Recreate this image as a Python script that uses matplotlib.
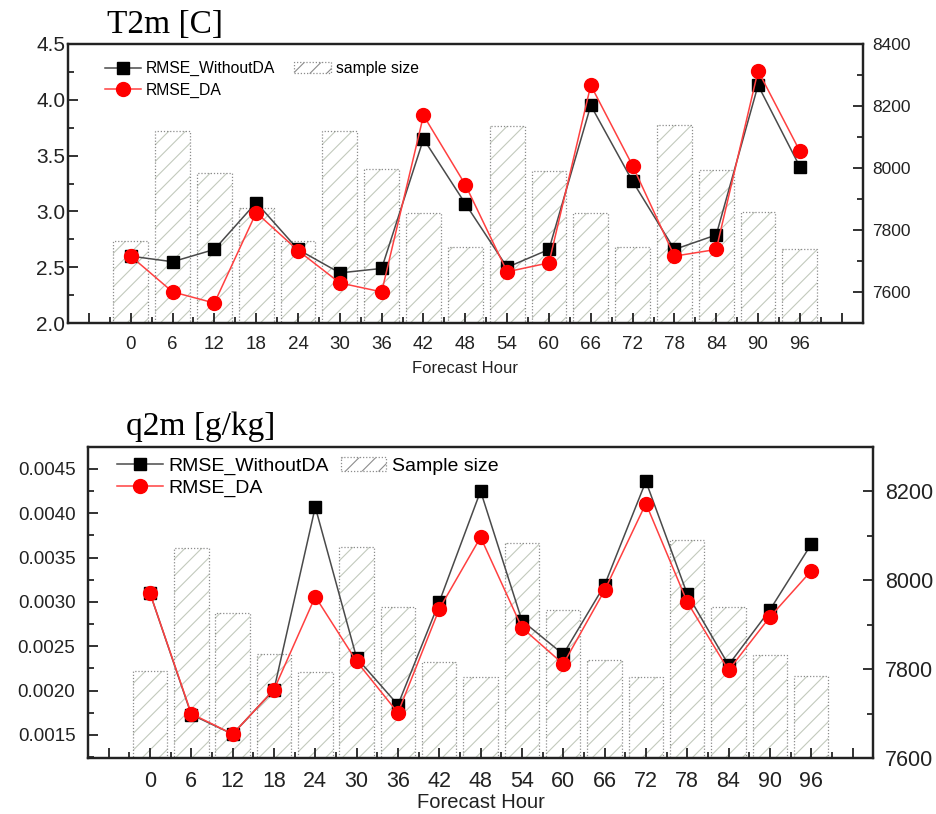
import matplotlib
matplotlib.use("Agg")
import matplotlib.pyplot as plt
from matplotlib.ticker import MultipleLocator

plt.rcParams['font.family'] = ['Liberation Sans', 'DejaVu Sans']
plt.rcParams['hatch.linewidth'] = 0.8

hours = [0, 6, 12, 18, 24, 30, 36, 42, 48, 54, 60, 66, 72, 78, 84, 90, 96]

# T2m panel
t2m_nodA = [2.60, 2.55, 2.66, 3.08, 2.66, 2.45, 2.49, 3.65, 3.07, 2.50, 2.66,
            3.95, 3.27, 2.66, 2.79, 4.13, 3.40]
t2m_da = [2.60, 2.28, 2.18, 2.99, 2.65, 2.36, 2.28, 3.86, 3.24, 2.46, 2.54,
          4.13, 3.41, 2.60, 2.66, 4.26, 3.54]
t2m_n = [7764, 8120, 7983, 7872, 7764, 8120, 7997, 7854, 7747, 8134, 7992,
         7854, 7744, 8140, 7995, 7859, 7738]

# q2m panel
q2m_nodA = [0.00310, 0.00173, 0.00151, 0.00201, 0.00407, 0.00237, 0.00184,
            0.00300, 0.00425, 0.00279, 0.00241, 0.00319, 0.00436, 0.00309,
            0.00229, 0.00291, 0.00365]
q2m_da = [0.00310, 0.00174, 0.00151, 0.00201, 0.00306, 0.00233, 0.00175,
          0.00292, 0.00373, 0.00271, 0.00230, 0.00313, 0.00411, 0.00300,
          0.00223, 0.00283, 0.00335]
q2m_n = [7795, 8072, 7926, 7835, 7793, 8074, 7940, 7817, 7782, 8084, 7934,
         7821, 7782, 8090, 7940, 7831, 7785]

hatch_col = '#c3cabd'
ink = '#222222'


def panel(rect, title, title_x, nodA, da, nsamp, ylim, ymaj, ymin, y2lim,
          bar_label, yfmt, fs_y, fs_x, fs_y2, fs_leg, fs_lab, pad_y, pad_y2,
          labpad, leg_xy, leg_sp, leg_cs):
    ax = fig.add_axes(rect)
    ax2 = ax.twinx()
    ax.set_zorder(ax2.get_zorder() + 1)
    ax.patch.set_visible(False)

    ax2.bar(hours, nsamp, width=5, color='white', edgecolor=hatch_col,
            hatch='//', linewidth=0)
    ax2.bar(hours, nsamp, width=5, fill=False, edgecolor='#8c8c8c',
            linestyle=(0, (1, 1.5)), linewidth=0.9)
    hb = plt.Rectangle((0, 0), 1, 1, facecolor='white', edgecolor='#8c8c8c',
                       hatch='//', linestyle=(0, (1, 1.5)), linewidth=0.9)

    l1, = ax.plot(hours, nodA, color='#4a4a4a', lw=1.1, marker='s', ms=8,
                  mfc='black', mec='black')
    l2, = ax.plot(hours, da, color='#ff4040', lw=1.1, marker='o', ms=10,
                  mfc='red', mec='red')

    ax.set_xlim(-9, 105)
    ax.set_ylim(*ylim)
    ax2.set_ylim(*y2lim)
    ticks = list(range(-6, 103, 6))
    ax.set_xticks(ticks)
    ax.set_xticklabels(['' if (t < 0 or t > 96) else str(t) for t in ticks])
    ax.xaxis.set_minor_locator(MultipleLocator(3))
    ax.yaxis.set_major_locator(MultipleLocator(ymaj))
    ax.yaxis.set_minor_locator(MultipleLocator(ymin))
    ax2.yaxis.set_major_locator(MultipleLocator(200))
    ax2.yaxis.set_minor_locator(MultipleLocator(100))
    ax.yaxis.set_major_formatter(yfmt)
    for a in (ax, ax2):
        a.tick_params(which='major', direction='in', length=7, width=1.3,
                      colors=ink)
        a.tick_params(which='minor', direction='in', length=4, width=1.1)
        for s in a.spines.values():
            s.set_linewidth(1.6)
            s.set_color(ink)
    ax.tick_params(axis='x', pad=9, labelsize=fs_x)
    ax.tick_params(axis='y', pad=pad_y, labelsize=fs_y)
    ax2.tick_params(axis='y', pad=pad_y2, labelsize=fs_y2)
    ax.set_xlabel('Forecast Hour', fontsize=fs_lab, color=ink, labelpad=labpad)

    ax.legend([l1, l2, hb], ['RMSE_WithoutDA', 'RMSE_DA', bar_label],
              ncol=2, loc='upper left', frameon=False, fontsize=fs_leg,
              handlelength=2.35, handletextpad=0.3, columnspacing=leg_cs,
              labelspacing=leg_sp, borderaxespad=0, borderpad=0,
              bbox_to_anchor=leg_xy)
    fig.text(title_x, rect[1] + rect[3] + 0.005, title, family='Liberation Serif',
             fontsize=24, va='bottom', ha='left')
    return ax


fig = plt.figure(figsize=(9.37, 8.14), dpi=100)

panel([0.0726, 0.603, 0.848, 0.343], 'T2m [C]', 0.114, t2m_nodA, t2m_da, t2m_n,
      (2.0, 4.5), 0.5, 0.25, (7500, 8400), 'sample size',
      plt.FormatStrFormatter('%.1f'), 15, 13.5, 12.5, 11.3, 12, 2, 7, 6,
      (0.046, 0.938), 0.4, 1.2)

panel([0.0939, 0.0684, 0.838, 0.383], 'q2m [g/kg]', 0.135, q2m_nodA, q2m_da, q2m_n,
      (0.001237, 0.004752), 0.0005, 0.00025, (7600, 8300), 'Sample size',
      plt.FormatStrFormatter('%.4f'), 13.5, 15.5, 15.5, 14, 14.5, 9, 8.5, 0.5,
      (0.037, 0.966), 0.2, 0.6)

fig.savefig('out.png', dpi=100)
